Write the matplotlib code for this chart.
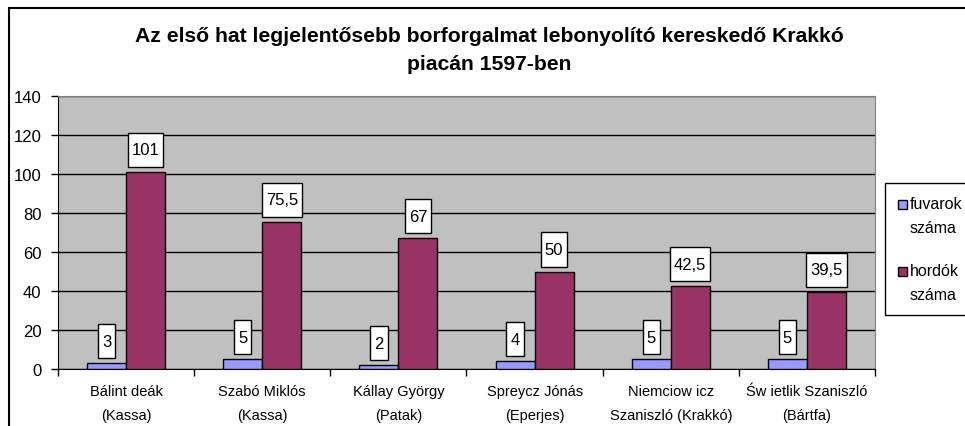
import matplotlib.pyplot as plt
from matplotlib.patches import Rectangle
from matplotlib.path import Path
from matplotlib.legend_handler import HandlerPatch
import numpy as np

plt.rcParams['font.family'] = ['Liberation Sans', 'DejaVu Sans']

# adatok
categories = ['Bálint deák\n(Kassa)', 'Szabó Miklós\n(Kassa)', 'Kállay György\n(Patak)',
              'Spreycz Jónás\n(Eperjes)', 'Niemciow icz\nSzaniszló (Krakkó)',
              'Św ietlik Szaniszló\n(Bártfa)']
fuvarok = [3, 5, 2, 4, 5, 5]
hordok = [101, 75.5, 67, 50, 42.5, 39.5]
series_names = ['fuvarok\nszáma', 'hordók\nszáma']
yticks = [0, 20, 40, 60, 80, 100, 120, 140]

c_blue = '#9999FF'
c_red = '#993366'
c_bg = '#C0C0C0'

fig = plt.figure(figsize=(9.65, 4.27), dpi=100)
ax = fig.add_axes([58 / 965, 1 - 370 / 427, 817 / 965, 273 / 427])
ax.set_facecolor(c_bg)

x = np.arange(len(categories))
w = 0.287
b1 = ax.bar(x - w / 2, fuvarok, w, color=c_blue, edgecolor='black', lw=1, zorder=3)
b2 = ax.bar(x + w / 2, hordok, w, color=c_red, edgecolor='black', lw=1, zorder=3)

ax.set_xlim(-0.5, len(categories) - 0.5)
ax.set_ylim(0, 140)
ax.set_yticks(yticks)
ax.yaxis.grid(True, color='black', lw=1, zorder=1)
ax.set_axisbelow(True)
ax.tick_params(axis='y', labelsize=12, length=5, width=1, pad=7)
ax.set_xticks(x)
ax.set_xticklabels(categories, fontsize=10.5, linespacing=1.9)
ax.set_xticks(np.arange(len(categories) + 1) - 0.5, minor=True)
ax.tick_params(axis='x', which='major', length=0, pad=11)
ax.tick_params(axis='x', which='minor', length=5, width=1)
for s in ['top', 'right']:
    ax.spines[s].set_color('#808080')
for s in ['left', 'bottom']:
    ax.spines[s].set_color('black')


def label_box(x0, y0, width, height, mutation_size):
    px, py = 0.24 * mutation_size, 0.58 * mutation_size
    x0, y0 = x0 - px, y0 - py
    x1, y1 = x0 + width + 2 * px, y0 + height + 2 * py
    return Path([(x0, y0), (x1, y0), (x1, y1), (x0, y1), (x0, y0)], closed=True)


def fmt(v):
    return (f'{v:g}').replace('.', ',')


for bars, vals in [(b1, fuvarok), (b2, hordok)]:
    for r, v in zip(bars, vals):
        ax.annotate(fmt(v), (r.get_x() + r.get_width() / 2, v), xytext=(0, 10.5),
                    textcoords='offset points', ha='center', va='bottom',
                    fontsize=12, zorder=5,
                    bbox=dict(boxstyle=label_box, fc='white', ec='black', lw=1))


def square_handle(legend, orig_handle, xdescent, ydescent, width, height, fontsize):
    s = 0.55 * fontsize
    return Rectangle((-xdescent, -ydescent + height / 2 - s / 2 + 0.72 * fontsize), s, s)


h1 = Rectangle((0, 0), 1, 1, fc=c_blue, ec='black', lw=1)
h2 = Rectangle((0, 0), 1, 1, fc=c_red, ec='black', lw=1)
leg = fig.legend([h1, h2], series_names, loc='upper left',
                 bbox_to_anchor=(885 / 965, 1 - 184 / 427), fontsize=11.5,
                 frameon=True, fancybox=False, edgecolor='black', framealpha=1,
                 handlelength=0.55, handleheight=0.7, handletextpad=0.2,
                 labelspacing=1.7, borderpad=0.8, borderaxespad=0,
                 handler_map={Rectangle: HandlerPatch(patch_func=square_handle)})
leg.get_frame().set_linewidth(1)
for t in leg.get_texts():
    t.set_linespacing(1.8)

fig.text(489.5 / 965, 1 - 50.5 / 427,
         'Az első hat legjelentősebb borforgalmat lebonyolító kereskedő Krakkó\npiacán 1597-ben',
         ha='center', va='center', fontsize=15.2, fontweight='bold', linespacing=1.55)

fig.add_artist(Rectangle((9 / 965, -0.1), 1.2, 1 - 9 / 427 + 0.1, transform=fig.transFigure,
                         fill=False, ec='black', lw=1.5))

fig.savefig('out.png', dpi=100)
